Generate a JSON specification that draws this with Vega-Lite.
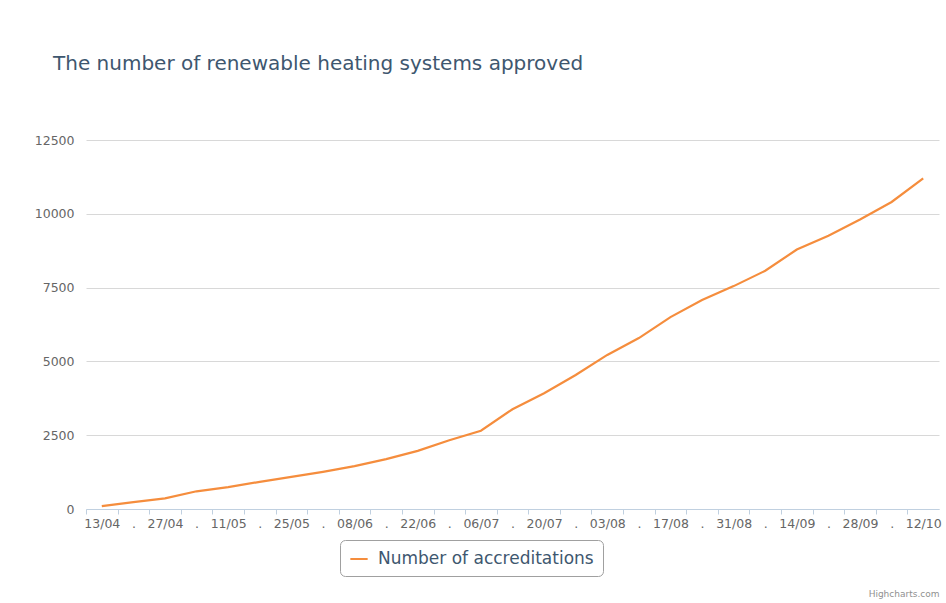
{
  "$schema": "https://vega.github.io/schema/vega-lite/v6.json",
  "autosize": "none",
  "width": 853,
  "height": 369,
  "padding": {"left": 86, "top": 140, "right": 7, "bottom": 94},
  "background": "white",
  "title": {
    "text": "The number of renewable heating systems approved",
    "anchor": "start",
    "frame": "group",
    "dx": -33,
    "offset": 60,
    "font": "DejaVu Sans",
    "fontSize": 20,
    "fontWeight": "normal",
    "color": "#3E576F"
  },
  "data": {
    "values": [
      {"week": "13/04", "series": "Number of accreditations", "count": 100},
      {"week": "20/04", "series": "Number of accreditations", "count": 230},
      {"week": "27/04", "series": "Number of accreditations", "count": 360},
      {"week": "04/05", "series": "Number of accreditations", "count": 600},
      {"week": "11/05", "series": "Number of accreditations", "count": 740},
      {"week": "18/05", "series": "Number of accreditations", "count": 920},
      {"week": "25/05", "series": "Number of accreditations", "count": 1090},
      {"week": "01/06", "series": "Number of accreditations", "count": 1260},
      {"week": "08/06", "series": "Number of accreditations", "count": 1450},
      {"week": "15/06", "series": "Number of accreditations", "count": 1690},
      {"week": "22/06", "series": "Number of accreditations", "count": 1970},
      {"week": "29/06", "series": "Number of accreditations", "count": 2330},
      {"week": "06/07", "series": "Number of accreditations", "count": 2650},
      {"week": "13/07", "series": "Number of accreditations", "count": 3380},
      {"week": "20/07", "series": "Number of accreditations", "count": 3920},
      {"week": "27/07", "series": "Number of accreditations", "count": 4540},
      {"week": "03/08", "series": "Number of accreditations", "count": 5220},
      {"week": "10/08", "series": "Number of accreditations", "count": 5790},
      {"week": "17/08", "series": "Number of accreditations", "count": 6500},
      {"week": "24/08", "series": "Number of accreditations", "count": 7080},
      {"week": "31/08", "series": "Number of accreditations", "count": 7550},
      {"week": "07/09", "series": "Number of accreditations", "count": 8070},
      {"week": "14/09", "series": "Number of accreditations", "count": 8790},
      {"week": "21/09", "series": "Number of accreditations", "count": 9260},
      {"week": "28/09", "series": "Number of accreditations", "count": 9810},
      {"week": "05/10", "series": "Number of accreditations", "count": 10400},
      {"week": "12/10", "series": "Number of accreditations", "count": 11200}
    ]
  },
  "mark": {"type": "line", "strokeWidth": 2.2},
  "encoding": {
    "x": {
      "field": "week",
      "type": "ordinal",
      "sort": null,
      "scale": {"type": "point", "padding": 0.5},
      "axis": {
        "title": "Highcharts.com",
        "titleAnchor": "end",
        "titleAlign": "right",
        "titleFont": "DejaVu Sans",
        "titleFontSize": 9,
        "titleFontWeight": "normal",
        "titleColor": "#909090",
        "titlePadding": 60,
        "labelAngle": 0,
        "labelOverlap": false,
        "labelFont": "DejaVu Sans",
        "labelFontSize": 12.5,
        "labelColor": "#666666",
        "labelPadding": 3,
        "labelOffset": 15.8,
        "labelExpr": "indexof(['20/04','04/05','18/05','01/06','15/06','29/06','13/07','27/07','10/08','24/08','07/09','21/09','05/10'], datum.value) >= 0 ? '.' : datum.label",
        "domainColor": "#C0D0E0",
        "tickColor": "#C0D0E0",
        "tickSize": 5,
        "tickOffset": -15.8,
        "grid": false
      }
    },
    "y": {
      "field": "count",
      "type": "quantitative",
      "scale": {"domain": [0, 12500], "nice": false},
      "axis": {
        "title": null,
        "values": [0, 2500, 5000, 7500, 10000, 12500],
        "format": "d",
        "domain": false,
        "ticks": false,
        "labelPadding": 12,
        "labelFont": "DejaVu Sans",
        "labelFontSize": 12.5,
        "labelColor": "#666666",
        "gridColor": "#D8D8D8",
        "gridWidth": 1
      }
    },
    "color": {
      "field": "series",
      "type": "nominal",
      "scale": {"range": ["#F58D3D"]},
      "legend": {
        "title": null,
        "orient": "none",
        "legendX": 254,
        "legendY": 400,
        "symbolType": "stroke",
        "symbolStrokeWidth": 2,
        "symbolSize": 300,
        "labelFont": "DejaVu Sans",
        "labelFontSize": 17,
        "labelLimit": 0,
        "labelOffset": 9,
        "labelColor": "#3E576F",
        "padding": 9,
        "strokeColor": "#A0A0A0",
        "cornerRadius": 5,
        "fillColor": "white"
      }
    }
  },
  "config": {
    "view": {"stroke": null},
    "axis": {"labelLimit": 0}
  }
}
